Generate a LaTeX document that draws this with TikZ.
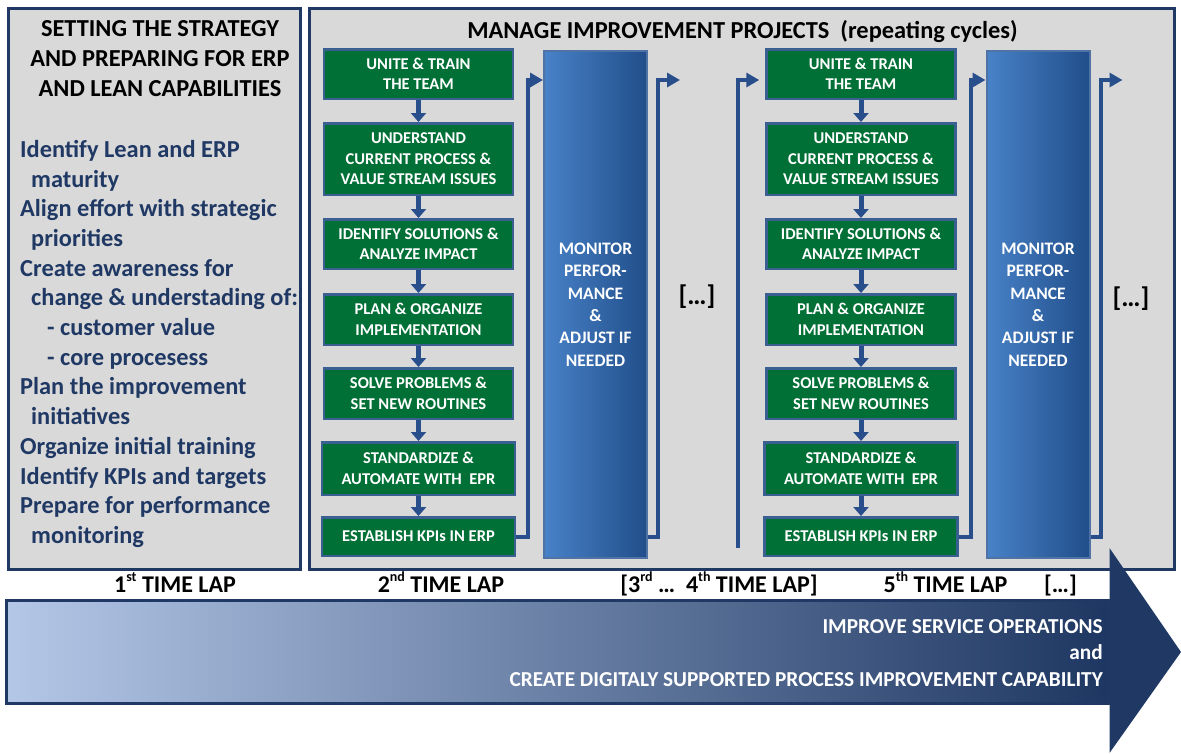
\documentclass[tikz,border=0pt]{standalone}
\usepackage{fontspec}
\setmainfont{Carlito}
\usetikzlibrary{arrows.meta,positioning}

\definecolor{navy}{RGB}{31,56,100}
\definecolor{panelgray}{RGB}{217,217,217}
\definecolor{stepgreen}{RGB}{0,112,54}
\definecolor{stepedge}{RGB}{58,95,145}
\definecolor{flowblue}{RGB}{40,78,140}
\definecolor{monedge}{RGB}{80,115,165}
\definecolor{monlight}{RGB}{72,130,200}
\definecolor{monmid}{RGB}{45,95,165}
\definecolor{mondark}{RGB}{33,78,138}
\definecolor{tlight}{RGB}{180,199,231}
\definecolor{tmid}{RGB}{130,155,190}
\definecolor{tdark}{RGB}{30,55,98}

% маленький верхний индекс для подписей кругов
\newcommand\lapsup[1]{\raisebox{0.42em}{\fontsize{14}{14}\selectfont #1}}

\begin{document}
\begin{tikzpicture}[x=1pt, y=-1pt,
    panel/.style={draw=navy, line width=3pt, fill=panelgray},
    headline/.style={font=\bfseries\fontsize{24.4}{30}\selectfont, align=center, inner sep=0pt},
    stepbox/.style={draw=stepedge, line width=2.5pt, fill=stepgreen, text=white,
      font=\bfseries\fontsize{16.5}{20.5}\selectfont, align=center,
      minimum width=189pt, inner sep=0pt},
    monitor/.style={draw=monedge, line width=2pt, left color=monlight, middle color=monmid,
      right color=mondark, minimum width=103pt, minimum height=507pt, text=white,
      font=\bfseries\fontsize{17.5}{22.4}\selectfont, align=center},
    stepflow/.style={flowblue, line width=5pt, -{Triangle[length=9pt,width=15pt]}},
    cycleflow/.style={flowblue, line width=4pt, line join=miter, -{Triangle[length=13pt,width=14pt]}},
    lap/.style={font=\bfseries\fontsize{24}{28}\selectfont, anchor=base, inner sep=0pt},
  ]

    \useasboundingbox (0,0) rectangle (1181,753);

    % Левая панель: стратегия
    \draw[panel] (8,8) rectangle (300.5,569.5);
    \node[headline] (settitle) at (160,59)
      {SETTING THE STRATEGY\\AND PREPARING FOR ERP\\AND LEAN CAPABILITIES};
    \node[anchor=north west, align=left, inner sep=0pt, text=navy,
          font=\bfseries\fontsize{24.4}{29.7}\selectfont] (setlist) at (20,140)
      {Identify Lean and ERP\\
       \hspace*{11pt}maturity\\
       Align effort with strategic\\
       \hspace*{11pt}priorities\\
       Create awareness for\\
       \hspace*{11pt}change \& understading of:\\
       \hspace*{27pt}- customer value\\
       \hspace*{27pt}- core procesess\\
       Plan the improvement\\
       \hspace*{11pt}initiatives\\
       Organize initial training\\
       Identify KPIs and targets\\
       Prepare for performance\\
       \hspace*{11pt}monitoring};

    % Правая панель: циклы улучшений
    \draw[panel] (309,8) rectangle (1174.5,569.5);
    \node[headline, anchor=base] (mantitle) at (742.5,38)
      {MANAGE IMPROVEMENT PROJECTS\ \ (repeating cycles)};

    % Два одинаковых цикла, второй сдвинут вправо
    \foreach \c/\dx in {1/0, 2/442.5} {
      \pgfmathsetmacro\cx{418.5+\dx}
      \pgfmathsetmacro\mx{595.5+\dx}
      \pgfmathsetmacro\ja{528+\dx}
      \pgfmathsetmacro\jb{658+\dx}

      \node[stepbox, minimum height=49.5pt] (unite\c) at (\cx,74) {UNITE \& TRAIN\\THE TEAM};
      \node[stepbox, minimum height=71.5pt] (under\c) at (\cx,159) {UNDERSTAND\\CURRENT PROCESS \&\\VALUE STREAM ISSUES};
      \node[stepbox, minimum height=49.5pt] (ident\c) at (\cx,244) {IDENTIFY SOLUTIONS \&\\ANALYZE IMPACT};
      \node[stepbox, minimum height=50.5pt] (plan\c) at (\cx,319.5) {PLAN \& ORGANIZE\\IMPLEMENTATION};
      \node[stepbox, minimum height=50.5pt] (solve\c) at (\cx,393.5) {SOLVE PROBLEMS \&\\SET NEW ROUTINES};
      \node[stepbox, minimum height=52.5pt, minimum width=193pt] (stand\c) at (\cx,468.5) {STANDARDIZE \&\\AUTOMATE WITH\ \ EPR};
      \node[stepbox, minimum height=38.5pt, minimum width=193pt] (kpi\c) at (\cx,536.5) {ESTABLISH KPIs IN ERP};

      \foreach \a/\b in {unite/under, under/ident, ident/plan, plan/solve, solve/stand, stand/kpi}
        \draw[stepflow] (\a\c) -- (\b\c);

      % Мониторинг
      \node[monitor] (mon\c) at (\mx,304.5) {MONITOR\\PERFOR-\\MANCE\\\&\\ADJUST IF\\NEEDED};

      % Обратные связи
      \coordinate (rise\c) at (\ja,80);
      \coordinate (exit\c) at (\jb,80);
      \coordinate (out\c) at (\jb+22,80);
      \draw[cycleflow] (kpi\c.east) -| (rise\c) -- (rise\c -| mon\c.west);
      \draw[cycleflow] (mon\c.east |- kpi\c.east) -| (exit\c) -- (out\c);
    }

    % Вход во второй цикл
    \coordinate (entry) at (738,548);
    \coordinate (back) at (738,80);
    \draw[cycleflow, shorten >=6pt] (entry) -- (back) -- (back -| unite2.west);

    % Пропуски
    \node[font=\bfseries\fontsize{27}{30}\selectfont] (gap1) at (697,297) {[…]};
    \node[font=\bfseries\fontsize{27}{30}\selectfont] (gap2) at (1131,299) {[…]};

    % Подписи кругов
    \node[lap] (lap1) at (175,592) {1\lapsup{st} TIME LAP};
    \node[lap] (lap2) at (441,592) {2\lapsup{nd} TIME LAP};
    \node[lap] (lap34) at (719,592) {[3\lapsup{rd} …\ \ 4\lapsup{th} TIME LAP]};
    \node[lap] (lap5) at (945.5,592) {5\lapsup{th} TIME LAP};
    \node[lap] (lapmore) at (1060.5,592) {[…]};

    % Большая стрелка
    \node[draw=navy, line width=2.5pt, left color=tlight, middle color=tmid, right color=tdark,
          anchor=north west, minimum width=1102pt, minimum height=103pt, inner sep=0pt]
      (timeline) at (5,599) {};
    \fill[navy] (timeline.east |- 0,548) -- (1181,652) -- (timeline.east |- 0,753) -- cycle;
    \node[anchor=north east, align=right, inner sep=0pt, text=white,
          font=\bfseries\fontsize{21.3}{26.5}\selectfont] (goal) at (1103,619)
      {IMPROVE SERVICE OPERATIONS\\and\\CREATE DIGITALY SUPPORTED PROCESS IMPROVEMENT CAPABILITY};
\end{tikzpicture}
\end{document}
